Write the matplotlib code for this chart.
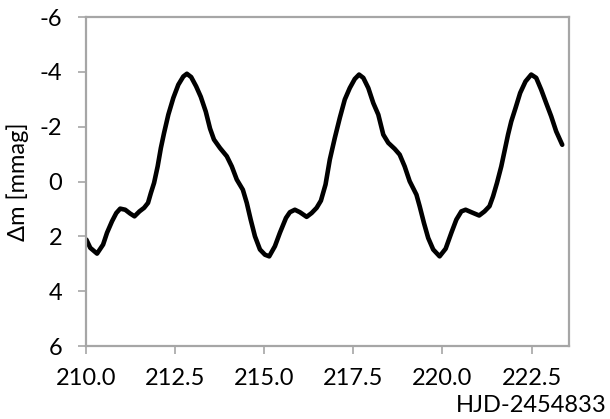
import matplotlib
matplotlib.use("Agg")
import matplotlib.pyplot as plt
from matplotlib.ticker import FormatStrFormatter, FixedLocator

plt.rcParams['font.family'] = ['Lato', 'DejaVu Sans']
plt.rcParams['axes.unicode_minus'] = False

# Light curve: time (HJD-2454833) and magnitude difference in mmag
hjd = [210.01, 210.12, 210.31, 210.48, 210.59, 210.73, 210.85, 210.96, 211.10,
       211.24, 211.36, 211.50, 211.63, 211.74, 211.82, 211.91, 212.01, 212.10,
       212.19, 212.31, 212.45, 212.59, 212.73, 212.83, 212.95, 213.09, 213.22,
       213.36, 213.48, 213.59, 213.76, 213.95, 214.09, 214.23, 214.40, 214.51,
       214.62, 214.74, 214.88, 215.02, 215.14, 215.30, 215.44, 215.61, 215.72,
       215.86, 216.00, 216.19, 216.33, 216.47, 216.59, 216.72, 216.84, 216.98,
       217.12, 217.26, 217.40, 217.54, 217.66, 217.78, 217.92, 218.06, 218.20,
       218.34, 218.48, 218.66, 218.80, 218.94, 219.08, 219.27, 219.36, 219.48,
       219.60, 219.74, 219.92, 220.09, 220.25, 220.39, 220.53, 220.65, 220.81,
       221.03, 221.18, 221.32, 221.42, 221.53, 221.65, 221.75, 221.84, 221.93,
       222.05, 222.18, 222.33, 222.49, 222.63, 222.77, 222.91, 223.05, 223.19,
       223.36]
dmag = [2.12, 2.42, 2.63, 2.30, 1.87, 1.45, 1.15, 0.99, 1.03,
        1.17, 1.27, 1.09, 0.96, 0.78, 0.42, 0.05, -0.55, -1.22,
        -1.77, -2.44, -3.05, -3.53, -3.83, -3.93, -3.81, -3.47, -3.09,
        -2.55, -1.93, -1.53, -1.22, -0.92, -0.55, -0.07, 0.30, 0.78,
        1.39, 2.00, 2.48, 2.67, 2.73, 2.36, 1.87, 1.33, 1.12,
        1.03, 1.12, 1.29, 1.15, 0.96, 0.70, 0.11, -0.80, -1.59,
        -2.32, -2.99, -3.41, -3.74, -3.90, -3.78, -3.41, -2.86, -2.44,
        -1.71, -1.41, -1.19, -0.98, -0.55, -0.01, 0.48, 0.90, 1.51,
        2.06, 2.48, 2.73, 2.45, 1.87, 1.39, 1.09, 1.03, 1.12,
        1.24, 1.09, 0.90, 0.54, 0.05, -0.55, -1.16, -1.71, -2.19,
        -2.68, -3.23, -3.65, -3.90, -3.78, -3.35, -2.86, -2.38, -1.83,
        -1.34]

x_ticks = [210.0, 212.5, 215.0, 217.5, 220.0, 222.5]
y_ticks = [-6, -4, -2, 0, 2, 4, 6]

fig = plt.figure(figsize=(6.1, 4.19), dpi=100)
ax = fig.add_axes([86 / 610, 1 - 346 / 419, (569 - 86) / 610, (346 - 17) / 419])

ax.plot(hjd, dmag, color='black', lw=3.3, solid_capstyle='round',
        solid_joinstyle='round')

ax.set_xlim(210.0, 223.55)
ax.set_ylim(6, -6)
ax.xaxis.set_major_locator(FixedLocator(x_ticks))
ax.yaxis.set_major_locator(FixedLocator(y_ticks))
ax.xaxis.set_major_formatter(FormatStrFormatter('%.1f'))
ax.yaxis.set_major_formatter(FormatStrFormatter('%d'))

spine_color = '#a6a6a6'
for s in ax.spines.values():
    s.set_color(spine_color)
    s.set_linewidth(1.6)
ax.tick_params(axis='both', which='major', direction='out', length=6,
               width=1.2, color=spine_color, labelsize=17, labelcolor='black')
ax.tick_params(axis='x', pad=10)
ax.tick_params(axis='y', pad=11)

ax.set_ylabel('Δm [mmag]', fontsize=17, labelpad=8)
fig.text(607 / 610, 1 - 405 / 419, 'HJD-2454833', ha='right', va='center',
         fontsize=17)

fig.savefig('out.png', dpi=100)
